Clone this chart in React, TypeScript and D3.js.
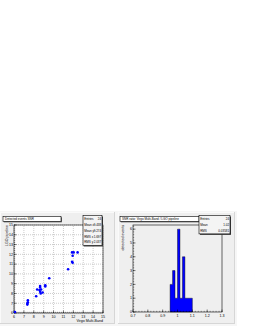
import React from "react";
import * as d3 from "d3";

const scatterX = [6.1, 7.35, 7.35, 7.4, 7.4, 8.24, 8.34, 8.57, 8.64, 8.64, 8.74, 8.64, 8.7, 8.9, 9.16, 9.16, 9.56, 11.47, 11.87, 11.93, 11.87, 12.03, 11.93, 12.43];
const scatterY = [6.1, 6.86, 6.97, 7.1, 7.3, 7.72, 8.41, 8.35, 8.76, 8.62, 8.41, 8.17, 8.0, 8.1, 8.83, 8.72, 9.55, 10.48, 11.24, 11.14, 12.2, 12.2, 11.86, 12.2];
const scatterTicks = [6, 7, 8, 9, 10, 11, 12, 13, 14, 15];
const scatterStats = [["Entries", "24"], ["Mean x", "9.438"], ["Mean y", "9.274"], ["RMS x", "1.697"], ["RMS y", "2.037"]];

const histEdgesStart = [0.95, 0.96667, 0.98333, 1.0, 1.01667, 1.03333, 1.05, 1.06667, 1.08333];
const histCounts = [2, 3, 1, 6, 1, 4, 1, 1, 1];
const histBinWidth = 0.6 / 36;
const histXTicks = [0.7, 0.8, 0.9, 1, 1.1, 1.2, 1.3];
const histYTicks = [0, 1, 2, 3, 4, 5, 6];
const histStats = [["Entries", "24"], ["Mean", "1.02"], ["RMS", "0.03581"]];

const FONT = "'Liberation Sans', Arial, sans-serif";
const FS = 3.6;
const SFS = 3;

function Pad({ x, y, w, h }: { x: number; y: number; w: number; h: number }) {
  return (
    <g>
      <rect x={x} y={y} width={w} height={h} fill="#efefef" />
      <line x1={x} y1={y + 0.5} x2={x + w} y2={y + 0.5} stroke="#fafafa" />
      <line x1={x + 0.5} y1={y} x2={x + 0.5} y2={y + h} stroke="#fafafa" />
      <line x1={x} y1={y + h - 0.5} x2={x + w} y2={y + h - 0.5} stroke="#d6d6d6" />
      <line x1={x + w - 0.5} y1={y} x2={x + w - 0.5} y2={y + h} stroke="#d6d6d6" />
    </g>
  );
}

function StatBox({ x, y, w, rows }: { x: number; y: number; w: number; rows: string[][] }) {
  const rh = 5.8;
  const h = rows.length * rh + 1;
  return (
    <g>
      <rect x={x + 1} y={y + 1} width={w} height={h} fill="#444" />
      <rect x={x} y={y} width={w} height={h} fill="#f4f4f4" stroke="#000" strokeWidth={0.6} />
      {rows.map((r, i) => (
        <g key={i} fontFamily={FONT} fontSize={SFS} fill="#000">
          <text x={x + 1.2} y={y + (i + 1) * rh - 1.2}>{r[0]}</text>
          <text x={x + w - 0.8} y={y + (i + 1) * rh - 1.2} textAnchor="end">{r[1]}</text>
        </g>
      ))}
    </g>
  );
}

function TitleBox({ x, y, w, text }: { x: number; y: number; w: number; text: string }) {
  return (
    <g>
      <rect x={x + 0.8} y={y + 0.8} width={w} height={5} fill="#444" />
      <rect x={x} y={y} width={w} height={5} fill="#fff" stroke="#000" strokeWidth={0.6} />
      <text x={x + 2} y={y + 3.7} fontFamily={FONT} fontSize={SFS} fill="#000">{text}</text>
    </g>
  );
}

export default function App() {
  const sx = d3.scaleLinear().domain([6, 15]).range([14, 103]);
  const sy = d3.scaleLinear().domain([6, 15]).range([313, 225]);
  const hx = d3.scaleLinear().domain([0.7, 1.3]).range([133, 222]);
  const hy = d3.scaleLinear().domain([0, 6.3]).range([312, 225]);

  const sMinor = d3.range(6, 15.001, 0.2);
  const hMinorX = d3.range(0.7, 1.3001, 0.02);
  const hMinorY = d3.range(0, 6.3, 0.2);

  const histPath = (() => {
    let p = `M${hx(histEdgesStart[0])},${hy(0)}`;
    histCounts.forEach((c, i) => {
      p += `L${hx(histEdgesStart[i])},${hy(c)}L${hx(histEdgesStart[i] + histBinWidth)},${hy(c)}`;
    });
    p += `L${hx(histEdgesStart[histEdgesStart.length - 1] + histBinWidth)},${hy(0)}Z`;
    return p;
  })();

  return (
    <div style={{ position: "absolute", left: 0, top: 0 }}>
      <svg width={253} height={327} style={{ display: "block" }}>
        <rect x={0} y={0} width={253} height={327} fill="#fff" />
        <rect x={0} y={211} width={237} height={115} fill="#f6f6f6" />
        <Pad x={0} y={212} w={115} h={112} />
        <Pad x={118} y={212} w={117} h={112} />

        <rect x={sx(6)} y={sy(15)} width={sx(15) - sx(6)} height={sy(6) - sy(15)} fill="#fff" />
        {scatterTicks.map((t) => (
          <g key={"g" + t} stroke="#999" strokeWidth={0.5} strokeDasharray="1,1">
            <line x1={sx(t)} x2={sx(t)} y1={sy(6)} y2={sy(15)} />
            <line y1={sy(t)} y2={sy(t)} x1={sx(6)} x2={sx(15)} />
          </g>
        ))}
        <rect x={sx(6)} y={sy(15)} width={sx(15) - sx(6)} height={sy(6) - sy(15)} fill="none" stroke="#000" strokeWidth={0.6} />
        {scatterTicks.map((t) => (
          <g key={"t" + t} stroke="#000" strokeWidth={0.5}>
            <line x1={sx(t)} x2={sx(t)} y1={sy(6)} y2={sy(6) - 2.5} />
            <line y1={sy(t)} y2={sy(t)} x1={sx(6)} x2={sx(6) + 2.5} />
          </g>
        ))}
        {sMinor.map((t, i) => (
          <g key={"m" + i} stroke="#000" strokeWidth={0.4}>
            <line x1={sx(t)} x2={sx(t)} y1={sy(6)} y2={sy(6) - 1.2} />
            <line y1={sy(t)} y2={sy(t)} x1={sx(6)} x2={sx(6) + 1.2} />
          </g>
        ))}
        {scatterTicks.map((t) => (
          <g key={"l" + t} fontFamily={FONT} fontSize={FS} fill="#000">
            <text x={sx(t)} y={sy(6) + 4.6} textAnchor="middle">{t}</text>
            <text x={sx(6) - 1} y={sy(t) + 1.3} textAnchor="end">{t}</text>
          </g>
        ))}
        {scatterX.map((v, i) => (
          <circle key={"p" + i} cx={sx(v)} cy={sy(scatterY[i])} r={1.3} fill="#0000ff" />
        ))}
        <text x={sx(15)} y={sy(6) + 9} textAnchor="end" fontFamily={FONT} fontSize={FS}>Virgo Multi-Band</text>
        <text transform={`translate(${7.5},${sy(15)}) rotate(-90)`} textAnchor="end" fontFamily={FONT} fontSize={FS}>LGO pipeline</text>
        <TitleBox x={3} y={216.5} w={58} text="Detected events SNR" />
        <StatBox x={83} y={215.5} w={19} rows={scatterStats} />

        <rect x={hx(0.7)} y={hy(6.3)} width={hx(1.3) - hx(0.7)} height={hy(0) - hy(6.3)} fill="#efefef" />
        <path d={histPath} fill="#0000ff" stroke="#000" strokeWidth={0.4} />
        <rect x={hx(0.7)} y={hy(6.3)} width={hx(1.3) - hx(0.7)} height={hy(0) - hy(6.3)} fill="none" stroke="#000" strokeWidth={0.6} />
        {histXTicks.map((t) => (
          <line key={"hx" + t} x1={hx(t)} x2={hx(t)} y1={hy(0)} y2={hy(0) - 2.5} stroke="#000" strokeWidth={0.5} />
        ))}
        {hMinorX.map((t, i) => (
          <line key={"hmx" + i} x1={hx(t)} x2={hx(t)} y1={hy(0)} y2={hy(0) - 1.2} stroke="#000" strokeWidth={0.4} />
        ))}
        {histYTicks.map((t) => (
          <line key={"hy" + t} y1={hy(t)} y2={hy(t)} x1={hx(0.7)} x2={hx(0.7) + 2.5} stroke="#000" strokeWidth={0.5} />
        ))}
        {hMinorY.map((t, i) => (
          <line key={"hmy" + i} y1={hy(t)} y2={hy(t)} x1={hx(0.7)} x2={hx(0.7) + 1.2} stroke="#000" strokeWidth={0.4} />
        ))}
        {histXTicks.map((t) => (
          <text key={"hxl" + t} x={hx(t)} y={hy(0) + 4.6} textAnchor="middle" fontFamily={FONT} fontSize={FS}>{t}</text>
        ))}
        {histYTicks.map((t) => (
          <text key={"hyl" + t} x={hx(0.7) - 1} y={hy(t) + 1.3} textAnchor="end" fontFamily={FONT} fontSize={FS}>{t}</text>
        ))}
        <text transform={`translate(${123.5},${hy(6.3)}) rotate(-90)`} textAnchor="end" fontFamily={FONT} fontSize={FS}>detected events</text>
        <TitleBox x={120} y={216.5} w={79} text="SNR ratio: Virgo Multi-Band / LGO pipeline" />
        <StatBox x={199} y={215.5} w={31} rows={histStats} />
      </svg>
    </div>
  );
}
